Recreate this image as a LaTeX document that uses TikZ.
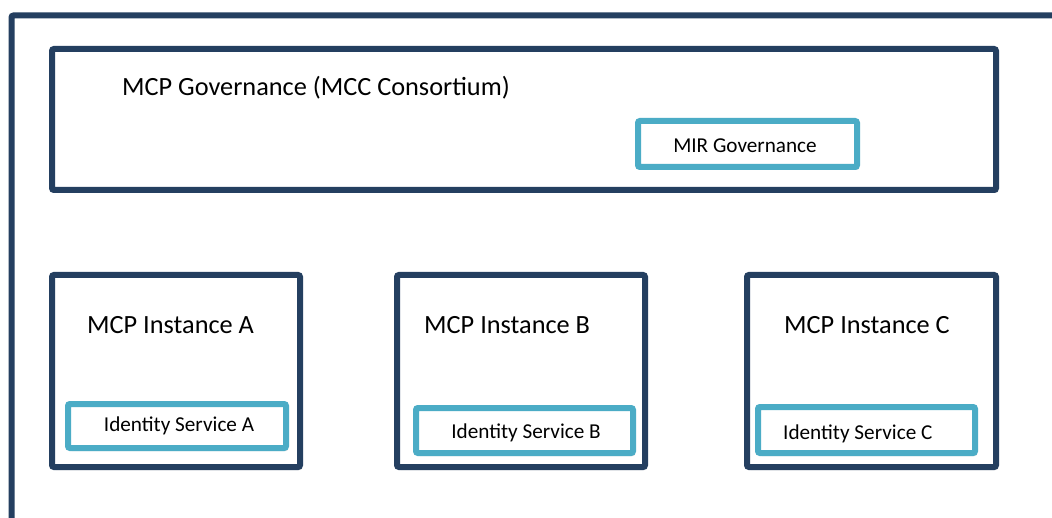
\documentclass[tikz,border=0pt]{standalone}
\usepackage{fontspec}
\setmainfont{Carlito}
\usetikzlibrary{shadows}
\definecolor{navy}{HTML}{243F60}
\definecolor{cyanb}{HTML}{4BACC6}
\tikzset{
  x=1pt, y=-1pt,
  outerbox/.style={draw=navy, line width=6pt, rounded corners=2pt},
  navybox/.style={draw=navy, line width=6pt, rounded corners=2pt, fill=white,
    drop shadow={shadow xshift=2pt, shadow yshift=-3pt, opacity=0.25, fill=gray}},
  cyanbox/.style={draw=cyanb, line width=6pt, rounded corners=2pt, fill=white,
    drop shadow={shadow xshift=2pt, shadow yshift=-3pt, opacity=0.25, fill=gray}},
  bigtxt/.style={font=\fontsize{26.3}{30}\selectfont, inner sep=0pt, anchor=west},
  smalltxt/.style={font=\fontsize{21.2}{25}\selectfont, inner sep=0pt},
}
\begin{document}
\begin{tikzpicture}
\useasboundingbox (0,0) rectangle (1052,518);
\clip (0,0) rectangle (1052,518);
\fill[white] (0,0) rectangle (1052,518);
% outer frame
\draw[outerbox] (11.5,15.5) rectangle (1070,540);
% governance
\draw[navybox] (52,49) rectangle (996,190);
\node[bigtxt] (gov) at (122,88) {MCP Governance (MCC Consortium)};
\draw[cyanbox] (638,121) rectangle (857,167);
\node[smalltxt] (mir) at (745,146) {MIR Governance};
% instance A
\draw[navybox] (52,275) rectangle (300,467);
\node[bigtxt] (ia) at (87,325) {MCP Instance A};
\draw[cyanbox] (68,404) rectangle (286,448);
\node[smalltxt] (sa) at (179,426) {Identity Service A};
% instance B
\draw[navybox] (397,275) rectangle (645,467);
\node[bigtxt] (ib) at (424,325) {MCP Instance B};
\draw[cyanbox] (416,408) rectangle (633,453);
\node[smalltxt] (sb) at (526,433) {Identity Service B};
% instance C
\draw[navybox] (747,275) rectangle (996,467);
\node[bigtxt] (ic) at (784,325) {MCP Instance C};
\draw[cyanbox] (758,407) rectangle (975,453);
\node[smalltxt, anchor=west] (sc) at (783,434) {Identity Service C};
\end{tikzpicture}
\end{document}
